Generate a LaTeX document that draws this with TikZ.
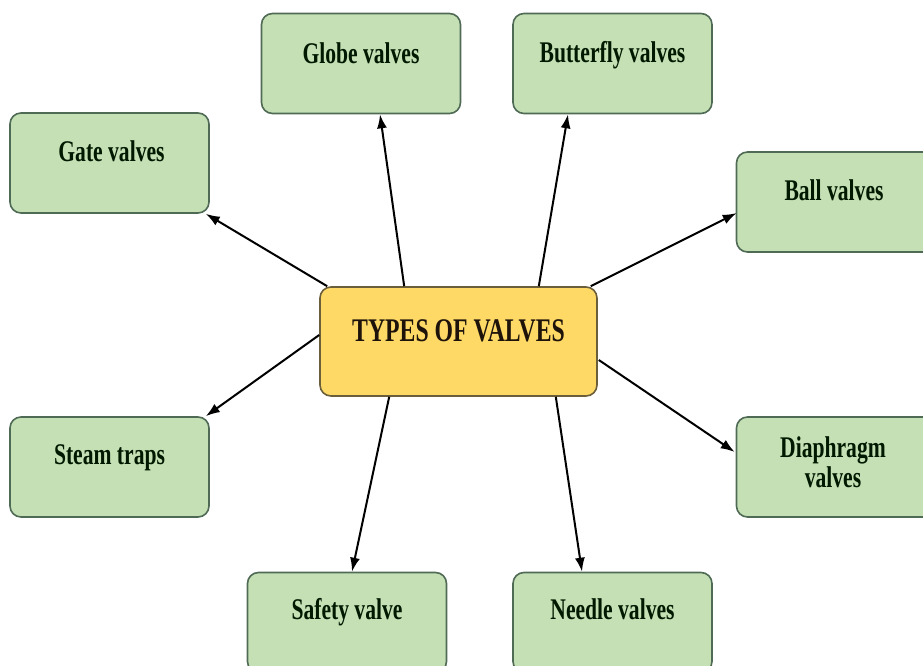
\documentclass[tikz,border=0pt]{standalone}
\usepackage{fontspec}
\setmainfont{Liberation Serif}
\newfontfamily\condfont[FakeStretch=0.72]{Liberation Serif}
\usetikzlibrary{arrows.meta,calc}
\definecolor{boxgreen}{HTML}{C5E0B4}
\definecolor{boxgreenline}{HTML}{4F6A55}
\definecolor{boxyellow}{HTML}{FFD966}
\definecolor{boxyellowline}{HTML}{6B5E3A}
\tikzset{
  greenbox/.style={draw=boxgreenline, fill=boxgreen, line width=1.6pt, rounded corners=11pt, minimum width=199pt, minimum height=100pt, inner sep=0pt},
  centerbox/.style={draw=boxyellowline, fill=boxyellow, line width=1.6pt, rounded corners=11pt, minimum width=277pt, minimum height=109pt, inner sep=0pt},
  boxtext/.style={anchor=base, inner sep=0pt, font=\condfont\bfseries\fontsize{30}{31}\selectfont, text=black!90!green},
  centertext/.style={anchor=base, inner sep=0pt, font=\condfont\bfseries\fontsize{33}{34}\selectfont, text=black!85!brown},
  conn/.style={line width=2pt, -{Latex[length=14pt,width=10pt]}}
}
\begin{document}
\begin{tikzpicture}[x=1pt,y=-1pt]
\useasboundingbox (0,0) rectangle (923,666);
\clip (0,0) rectangle (923,666);
% boxes
\node[centerbox] (c) at (458.5,341.5) {};
\node[greenbox] (globe) at (361,63.5) {};
\node[greenbox] (butterfly) at (612.5,63.5) {};
\node[greenbox] (gate) at (109.5,163) {};
\node[greenbox] (ball) at (836,202) {};
\node[greenbox] (steam) at (109.5,467) {};
\node[greenbox] (diaphragm) at (836,467) {};
\node[greenbox] (safety) at (347,622.5) {};
\node[greenbox] (needle) at (612.5,622.5) {};
% texts
\node[centertext] (ct) at ($(c.north)+(0,55)$) {TYPES OF VALVES};
\node[boxtext] (t1) at ($(globe.north)+(0,51)$) {Globe valves};
\node[boxtext] (t2) at ($(butterfly.north)+(0,50)$) {Butterfly valves};
\node[boxtext] (t3) at ($(gate.north)+(2,49)$) {Gate valves};
\node[boxtext] (t4) at ($(ball.north)+(-2,49)$) {Ball valves};
\node[boxtext] (t5) at ($(steam.north)+(0,48)$) {Steam traps};
\node[boxtext] (t6a) at ($(diaphragm.north)+(-3,41)$) {Diaphragm};
\node[boxtext] (t6b) at ($(diaphragm.north)+(-3,71)$) {valves};
\node[boxtext] (t7) at ($(safety.north)+(0,48)$) {Safety valve};
\node[boxtext] (t8) at ($(needle.north)+(0,48)$) {Needle valves};
% connectors
\draw[conn] ($(c.north west)+(8,0)$) -- ($(gate.south east)+(-4,0)$);
\draw[conn] ($(c.north west)+(85,0)$) -- ($(globe.south)+(19,0)$);
\draw[conn] ($(c.north east)+(-59,0)$) -- ($(butterfly.south)+(-44.5,0)$);
\draw[conn] ($(c.north east)+(-7,0)$) -- ($(ball.west)+(1,11)$);
\draw[conn] ($(c.west)+(0,-6.5)$) -- ($(steam.north east)+(-4,0)$);
\draw[conn] ($(c.south west)+(70,0)$) -- ($(safety.north)+(5,0)$);
\draw[conn] ($(c.south east)+(-42,0)$) -- ($(needle.north)+(-30.5,0)$);
\draw[conn] ($(c.east)+(1,18.5)$) -- ($(diaphragm.west)+(-1,-15)$);
\end{tikzpicture}
\end{document}
